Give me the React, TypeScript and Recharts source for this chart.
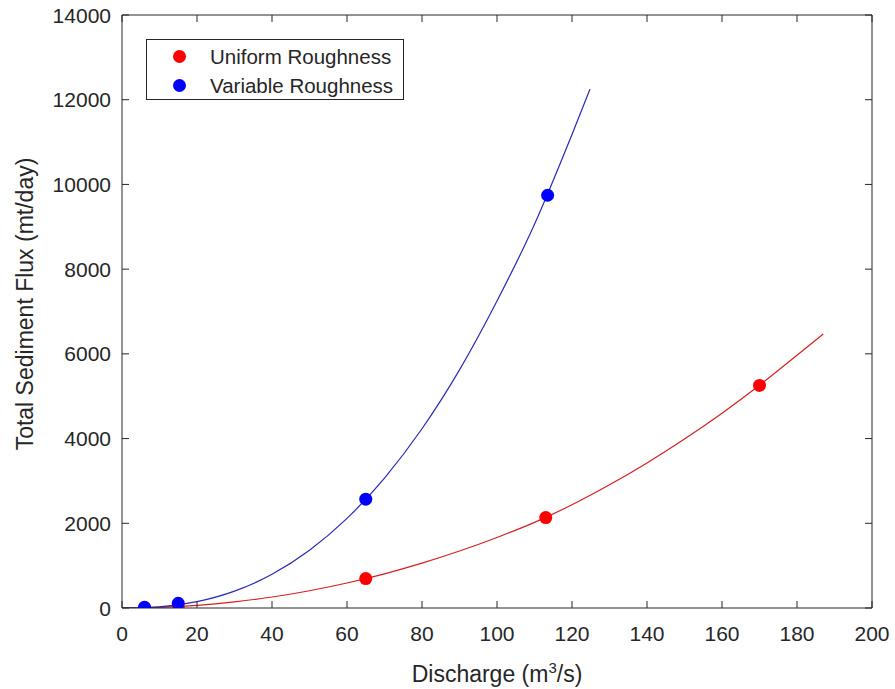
import { ComposedChart, Line, Scatter, XAxis, YAxis, Legend, ReferenceLine } from 'recharts'

// measured discharge (m3/s) and total flux (mt/day)
const uniformQ = [6, 15, 65, 113, 170]
const uniformFlux = [5, 10, 695, 2135, 5255]
const variableQ = [6, 15, 65, 113.5]
const variableFlux = [15, 110, 2570, 9745]

// fitted curves, sampled along discharge
const uniformFitQ = [0, 10, 20, 30, 40, 50, 60, 70, 80, 90, 100, 110, 120, 130, 140, 150, 160, 170, 180, 187]
const uniformFitFlux = [0, 15, 63, 145, 259, 408, 590, 807, 1059, 1345, 1665, 2021, 2437, 2908, 3425, 3988, 4599, 5258, 5966, 6470]
const variableFitQ = [0, 10, 20, 30, 40, 50, 60, 70, 80, 90, 100, 110, 120, 124.8]
const variableFitFlux = [0, 28, 150, 398, 796, 1364, 2116, 3068, 4232, 5622, 7247, 9060, 11180, 12250]

const xTicks = [0, 20, 40, 60, 80, 100, 120, 140, 160, 180, 200]
const yTicks = [0, 2000, 4000, 6000, 8000, 10000, 12000, 14000]

const seriesNames = ['Uniform Roughness', 'Variable Roughness']
const seriesColors = ['#ff0000', '#0000ff']

const AXIS = '#262626'
const FONT = '"Liberation Sans", Arial, Helvetica, sans-serif'

// plot box edges, used for the inward tick marks on the opposite sides
const PLOT_TOP = 15
const PLOT_RIGHT = 872
const TICK = 7

const toRows = (xs: number[], ys: number[]) => xs.map((q, i) => ({ q, flux: ys[i] }))

const uniformPoints = toRows(uniformQ, uniformFlux)
const variablePoints = toRows(variableQ, variableFlux)
const uniformFit = toRows(uniformFitQ, uniformFitFlux)
const variableFit = toRows(variableFitQ, variableFitFlux)

const dot = (color: string) => (props: any) => (
  <circle cx={props.cx} cy={props.cy} r={6.5} fill={color} />
)

// bottom axis tick: inward mark at bottom and top, label below
function XTick({ x, y, payload }: any) {
  return (
    <g>
      <line x1={x} x2={x} y1={y} y2={y - TICK} stroke={AXIS} />
      <line x1={x} x2={x} y1={PLOT_TOP} y2={PLOT_TOP + TICK} stroke={AXIS} />
      <text x={x} y={y + 33} textAnchor="middle" fill={AXIS} fontSize={21} fontFamily={FONT}>
        {payload.value}
      </text>
    </g>
  )
}

// left axis tick: inward mark at left and right, label to the left
function YTick({ x, y, payload }: any) {
  return (
    <g>
      <line x1={x} x2={x + TICK} y1={y} y2={y} stroke={AXIS} />
      <line x1={PLOT_RIGHT} x2={PLOT_RIGHT - TICK} y1={y} y2={y} stroke={AXIS} />
      <text x={x - 11} y={y + 7.5} textAnchor="end" fill={AXIS} fontSize={21} fontFamily={FONT}>
        {payload.value}
      </text>
    </g>
  )
}

function XLabel({ viewBox }: any) {
  const cx = viewBox.x + viewBox.width / 2
  return (
    <text x={cx} y={viewBox.y + 74} textAnchor="middle" fill={AXIS} fontSize={23} fontFamily={FONT}>
      Discharge (m
      <tspan dy={-9} fontSize={15}>3</tspan>
      <tspan dy={9}>/s)</tspan>
    </text>
  )
}

function YLabel() {
  return (
    <text x={33} y={304} transform="rotate(-90, 33, 304)" textAnchor="middle" fill={AXIS} fontSize={23} fontFamily={FONT}>
      Total Sediment Flux (mt/day)
    </text>
  )
}

function LegendBox() {
  return (
    <div
      style={{
        boxSizing: 'border-box',
        width: 258,
        height: 61,
        border: `1px solid ${AXIS}`,
        background: '#fff',
        paddingTop: 2,
        fontFamily: FONT,
        fontSize: 20.5,
        color: AXIS,
      }}
    >
      {seriesNames.map((name, i) => (
        <div key={name} style={{ display: 'flex', alignItems: 'center', height: 29 }}>
          <svg width={13} height={13} style={{ marginLeft: 26, marginRight: 24 }}>
            <circle cx={6.5} cy={6.5} r={6.5} fill={seriesColors[i]} />
          </svg>
          <span>{name}</span>
        </div>
      ))}
    </div>
  )
}

export default function App() {
  return (
    <div style={{ position: 'absolute', left: 0, top: 0, width: 895, height: 689, background: '#fff' }}>
      <ComposedChart width={895} height={689} margin={{ top: PLOT_TOP, right: 895 - PLOT_RIGHT, bottom: 0, left: 0 }}>
        <XAxis
          xAxisId="bottom"
          type="number"
          dataKey="q"
          domain={[0, 200]}
          ticks={xTicks}
          height={81}
          stroke={AXIS}
          tickLine={false}
          tickSize={0}
          tickMargin={0}
          tick={<XTick />}
          label={<XLabel />}
          allowDataOverflow
        />
        <YAxis
          yAxisId="left"
          type="number"
          dataKey="flux"
          domain={[0, 14000]}
          ticks={yTicks}
          width={122}
          stroke={AXIS}
          tickLine={false}
          tickSize={0}
          tickMargin={0}
          tick={<YTick />}
          label={<YLabel />}
          allowDataOverflow
        />
        <ReferenceLine xAxisId="bottom" yAxisId="left" y={14000} stroke={AXIS} />
        <ReferenceLine xAxisId="bottom" yAxisId="left" x={200} stroke={AXIS} />
        <Legend
          layout="horizontal"
          verticalAlign="middle"
          align="center"
          content={<LegendBox />}
          wrapperStyle={{ position: 'absolute', left: 146, top: 39, width: 258 }}
        />
        <Line
          xAxisId="bottom"
          yAxisId="left"
          data={uniformFit}
          dataKey="flux"
          type="monotone"
          stroke="#d62020"
          strokeWidth={1.2}
          dot={false}
          legendType="none"
          isAnimationActive={false}
        />
        <Line
          xAxisId="bottom"
          yAxisId="left"
          data={variableFit}
          dataKey="flux"
          type="monotone"
          stroke="#2a2ab8"
          strokeWidth={1.2}
          dot={false}
          legendType="none"
          isAnimationActive={false}
        />
        <Scatter
          xAxisId="bottom"
          yAxisId="left"
          name={seriesNames[0]}
          data={uniformPoints}
          dataKey="flux"
          shape={dot(seriesColors[0])}
          isAnimationActive={false}
        />
        <Scatter
          xAxisId="bottom"
          yAxisId="left"
          name={seriesNames[1]}
          data={variablePoints}
          dataKey="flux"
          shape={dot(seriesColors[1])}
          isAnimationActive={false}
        />
      </ComposedChart>
    </div>
  )
}
